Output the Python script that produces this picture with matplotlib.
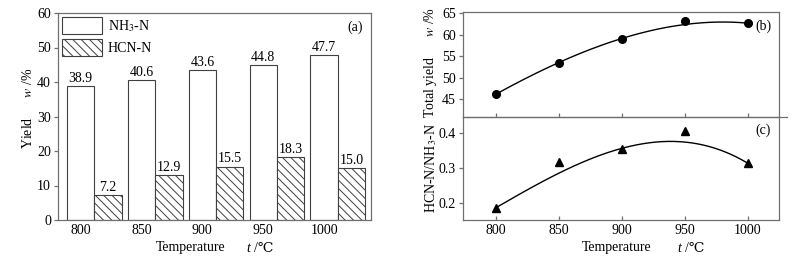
import numpy as np
import matplotlib.pyplot as plt

plt.rcParams['font.family'] = ['Liberation Serif', 'DejaVu Serif']
plt.rcParams['mathtext.fontset'] = 'stix'
plt.rcParams['hatch.linewidth'] = 0.7

temps = [800, 850, 900, 950, 1000]
nh3 = [38.9, 40.6, 43.6, 44.8, 47.7]
hcn = [7.2, 12.9, 15.5, 18.3, 15.0]
total = [46.1, 53.5, 59.1, 63.1, 62.7]
ratio = [0.185, 0.318, 0.356, 0.408, 0.314]

W, H = 795, 259
fig = plt.figure(figsize=(W / 100, H / 100), dpi=100)
spc = '#707070'
fs = 10

def px(x0, y0, x1, y1):
    return [x0 / W, 1 - y1 / H, (x1 - x0) / W, (y1 - y0) / H]

def style(ax):
    for s in ax.spines.values():
        s.set_color(spc)
        s.set_linewidth(0.9)
    ax.tick_params(labelsize=fs, color=spc, width=0.9, length=3, pad=2)

def templabel(x0, xt, y=248):
    # Temperature   t /℃  (kept out of mathtext so ℃ renders)
    fig.text(x0 / W, 1 - y / H, 'Temperature', fontsize=fs, ha='left', va='center')
    fig.text(xt / W, 1 - y / H, 't', fontsize=fs, style='italic', ha='left', va='center')
    fig.text((xt + 8) / W, 1 - y / H, '/\u2103', fontsize=fs, ha='left', va='center')

# (a) bars
ax = fig.add_axes(px(58, 13, 371, 220))
style(ax)
x = np.arange(len(temps))
bw = 0.45
b1 = ax.bar(x, nh3, bw, color='white', edgecolor='#404040', linewidth=0.8, label='NH$_3$-N')
b2 = ax.bar(x + bw, hcn, bw, color='white', edgecolor='#404040', linewidth=0.8, hatch='\\\\\\\\', label='HCN-N')
for bars, vals in ((b1, nh3), (b2, hcn)):
    for r, v in zip(bars, vals):
        ax.text(r.get_x() + r.get_width() / 2, v + 0.3, '%.1f' % v, ha='center', va='bottom', fontsize=fs)
ax.set_xlim(-0.37, 4.77)
ax.set_ylim(0, 60)
ax.set_yticks(range(0, 61, 10))
ax.set_xticks(x)
ax.set_xticklabels(temps)
ax.tick_params(axis='x', length=0, pad=3)
ax.set_ylabel('Yield      $w$ /%', fontsize=fs)
ax.yaxis.set_label_coords(-0.075, 0.54)
ax.legend(loc='upper left', frameon=False, fontsize=fs, handlelength=2.9, handleheight=1.5,
          borderaxespad=0.1, labelspacing=0.35, handletextpad=0.4, borderpad=0.2)
ax.text(0.975, 0.93, '(a)', transform=ax.transAxes, ha='right', va='center', fontsize=fs)
templabel(156, 246)

def smooth(xs, ys, deg, w):
    c = np.polyfit(xs, ys, deg, w=w)
    xx = np.linspace(min(xs), max(xs), 200)
    return xx, np.polyval(c, xx)

# (b) total yield
axb = fig.add_axes(px(463, 12, 779, 117))
style(axb)
xx, yy = smooth(temps, total, 3, [10, 10, 10, 1, 10])
axb.plot(xx, yy, color='black', lw=1.0)
axb.plot(temps, total, 'o', color='black', ms=5.5)
axb.set_xlim(774, 1025)
axb.set_ylim(40.8, 65.3)
axb.set_yticks([45, 50, 55, 60, 65])
axb.set_xticks(temps)
axb.tick_params(axis='x', direction='in', labelbottom=False)
axb.spines['bottom'].set_visible(False)
axb.set_ylabel('Total yield      $w$ /%', fontsize=fs)
axb.yaxis.set_label_coords(-0.075, 0.52)
axb.text(0.975, 0.86, '(b)', transform=axb.transAxes, ha='right', va='center', fontsize=fs)

# (c) ratio
axc = fig.add_axes(px(463, 117, 779, 220))
style(axc)
xx, yy = smooth(temps, ratio, 3, [10, 1, 10, 1, 10])
axc.plot(xx, yy, color='black', lw=1.0)
axc.plot(temps, ratio, '^', color='black', ms=6)
axc.set_xlim(774, 1025)
axc.set_ylim(0.15, 0.447)
axc.set_yticks([0.2, 0.3, 0.4])
axc.set_xticks(temps)
axc.tick_params(axis='x', direction='in', pad=3)
axc.set_ylabel('HCN-N/NH$_3$-N', fontsize=fs)
axc.yaxis.set_label_coords(-0.075, 0.5)
axc.text(0.975, 0.87, '(c)', transform=axc.transAxes, ha='right', va='center', fontsize=fs)
axc.plot([0, 1.025], [1, 1], transform=axc.transAxes, color=spc, lw=0.9, clip_on=False)
templabel(582, 677)

fig.savefig('out.png', dpi=100)
